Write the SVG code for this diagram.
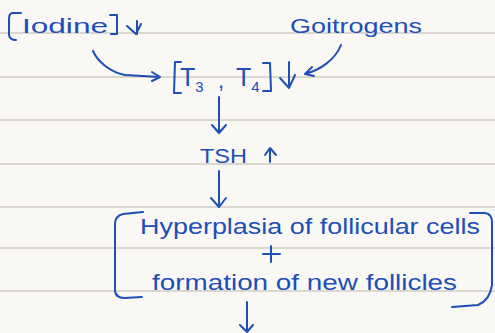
<svg xmlns="http://www.w3.org/2000/svg" width="495" height="333" viewBox="0 0 495 333">
<defs>
<style>
.bg{fill:#f9f8f4}
.rule{stroke:#cfcbc4;stroke-width:1.6}
.ink{fill:none;stroke:#1d4fb6;stroke-width:2;stroke-linecap:round;stroke-linejoin:round}
.t{fill:#1d4fb6;font-family:"Liberation Sans","DejaVu Sans",sans-serif}
</style>
</defs>
<rect class="bg" x="0" y="0" width="495" height="333"/>
<g id="paper-lines">
<line class="rule" x1="0" y1="33" x2="495" y2="33"/>
<line class="rule" x1="0" y1="77" x2="495" y2="77"/>
<line class="rule" x1="0" y1="120" x2="495" y2="120"/>
<line class="rule" x1="0" y1="164" x2="495" y2="164"/>
<line class="rule" x1="0" y1="207" x2="495" y2="207"/>
<line class="rule" x1="0" y1="248" x2="495" y2="248"/>
<line class="rule" x1="0" y1="291" x2="495" y2="291"/>
</g>
<g id="iodine">
<path class="ink" d="M21,13 L12,13 Q9,14 9,19 L9,35 Q10,40 16,40"/>
<text class="t" x="22" y="33" font-size="20" textLength="86" lengthAdjust="spacingAndGlyphs">Iodine</text>
<path class="ink" d="M110,15 L117,15 L117,34 L111,34"/>
<path class="ink" d="M137,21 L137,34 M127,26 L136,34 L141,24"/>
</g>
<g id="goitrogens">
<text class="t" x="290" y="33" font-size="21" textLength="132" lengthAdjust="spacingAndGlyphs">Goitrogens</text>
</g>
<g id="t3t4">
<path class="ink" d="M181,62 L175,62 L174,93 L181,93"/>
<text class="t" x="180" y="86" font-size="25">T<tspan font-size="15" dy="6">3</tspan></text>
<text class="t" x="218" y="88" font-size="22">,</text>
<text class="t" x="236" y="86" font-size="25">T<tspan font-size="15" dy="6">4</tspan></text>
<path class="ink" d="M263,63 L270,63 L271,91 L263,91"/>
<path class="ink" d="M289,62 L289,88 M280,78 L289,88 L295,75"/>
</g>
<g id="tsh">
<text class="t" x="200" y="163" font-size="20" textLength="47" lengthAdjust="spacingAndGlyphs">TSH</text>
<path class="ink" d="M270,162 L270,149 M265,155 L270,148 L276,155"/>
</g>
<g id="outcome">
<path class="ink" d="M143,212 L123,214 Q115,216 115,224 L115,291 Q116,298 124,298 L142,297"/>
<text class="t" x="140" y="234" font-size="22" textLength="340" lengthAdjust="spacingAndGlyphs">Hyperplasia of follicular cells</text>
<path class="ink" d="M263,254 L280,254 M271,246 L271,262"/>
<text class="t" x="152" y="290" font-size="22" textLength="305" lengthAdjust="spacingAndGlyphs">formation of new follicles</text>
<path class="ink" d="M470,213 L485,213 Q492,214 492,222 L492,285 Q490,300 478,305 L452,307"/>
</g>
<g id="connectors">
<path class="ink" d="M93,51 C98,62 110,72 125,75 L160,77 M152,72 L160,77 L152,81"/>
<path class="ink" d="M341,45 C335,60 320,70 305,74 M312,67 L305,74 L314,76"/>
<path class="ink" d="M219,97 L219,132 M212,125 L219,133 L226,125"/>
<path class="ink" d="M219,171 L219,206 M211,198 L219,207 L226,198"/>
<path class="ink" d="M247,302 L247,332 M240,325 L247,332 L253,325"/>
</g>
</svg>
